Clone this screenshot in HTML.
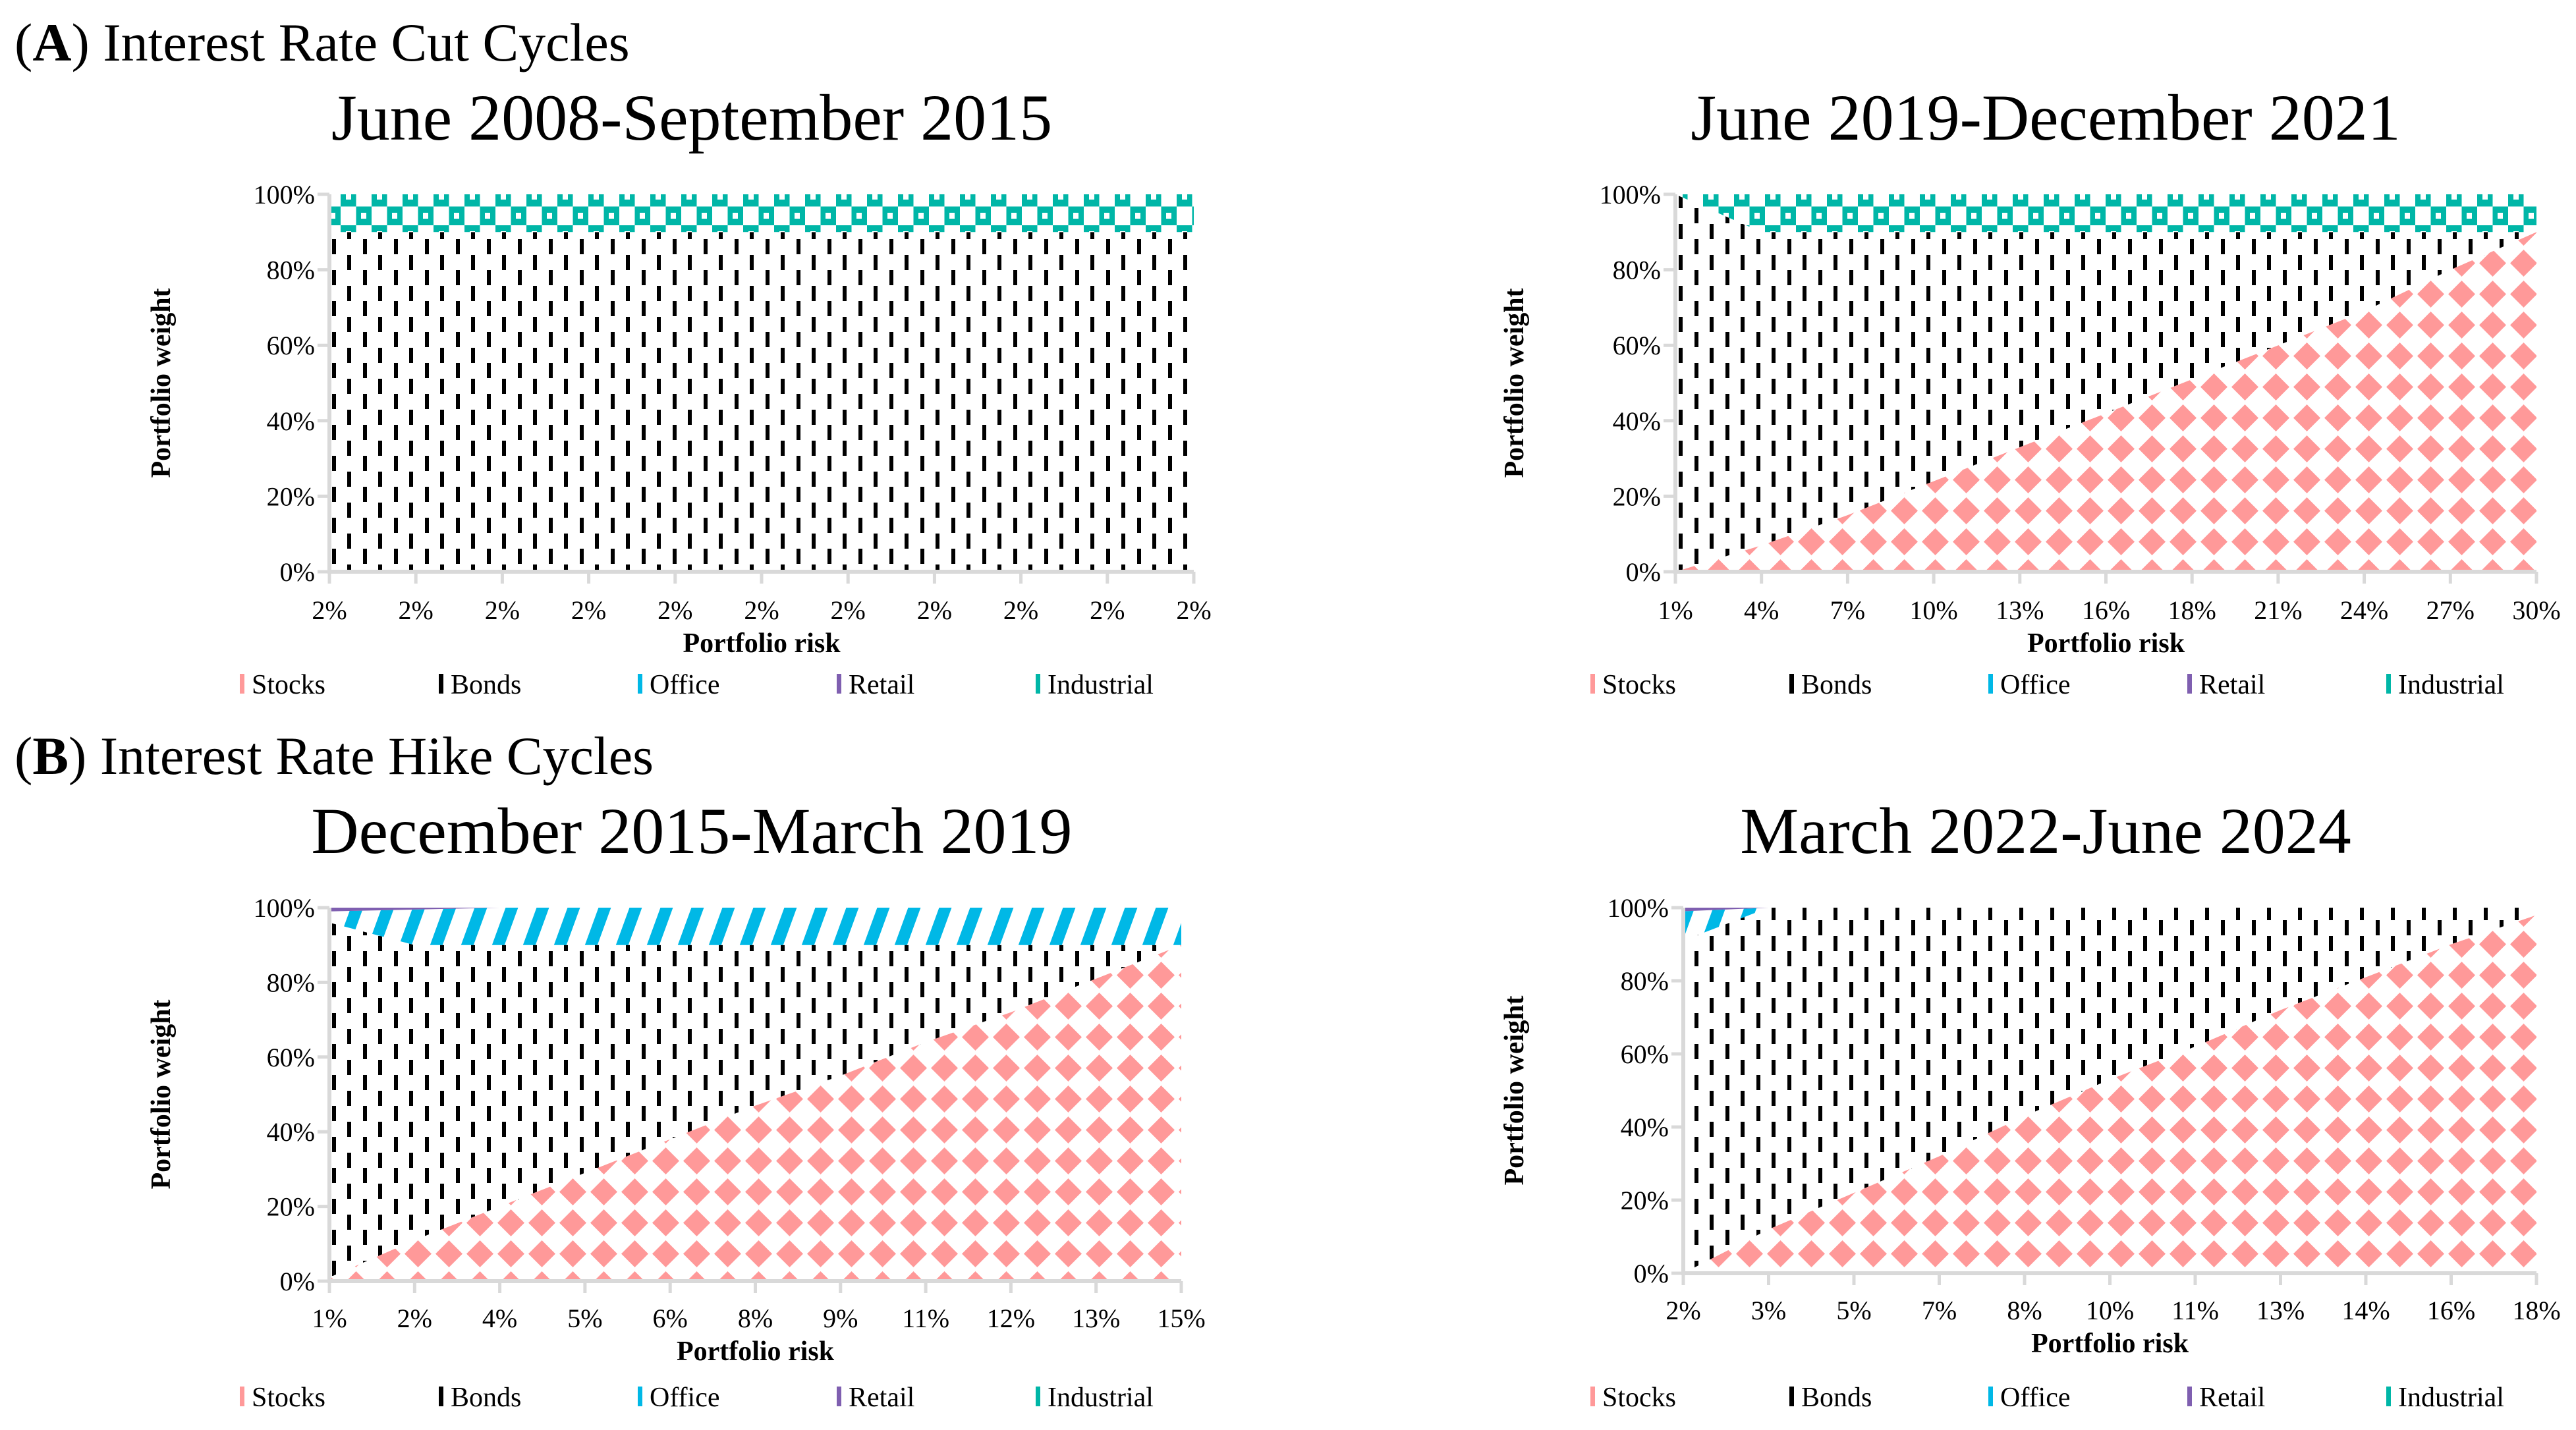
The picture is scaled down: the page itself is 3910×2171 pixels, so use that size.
<!DOCTYPE html>
<html><head><meta charset="utf-8">
<style>
html,body{margin:0;padding:0;background:#fff;}
svg{display:block;font-family:"Liberation Serif",serif;}
</style></head>
<body>
<svg id="fig" width="3910" height="2171" viewBox="0 0 3910 2171" xmlns="http://www.w3.org/2000/svg">
<defs>
  <pattern id="pStocks" patternUnits="userSpaceOnUse" width="47" height="47">
    <rect width="47" height="47" fill="#fff"/>
    <polygon points="23.5,3 44,23.5 23.5,44 3,23.5" fill="#ff9999"/>
  </pattern>
  <pattern id="pBonds" patternUnits="userSpaceOnUse" width="47" height="47">
    <rect width="47" height="47" fill="#fff"/>
    <rect x="10" y="11" width="6" height="23" fill="#000"/>
    <rect x="34" y="34" width="6" height="23" fill="#000"/>
    <rect x="34" y="-13" width="6" height="23" fill="#000"/>
  </pattern>
  <pattern id="pIndustrial" patternUnits="userSpaceOnUse" width="47" height="57">
    <rect width="47" height="57" fill="#fff"/>
    <rect x="0" y="0" width="23.5" height="28.5" fill="#00b6a7"/>
    <rect x="23.5" y="28.5" width="23.5" height="28.5" fill="#00b6a7"/>
    <rect x="8" y="9" width="8" height="9" fill="#fff"/>
    <rect x="31" y="38" width="8" height="9" fill="#fff"/>
  </pattern>
  <pattern id="pOffice" patternUnits="userSpaceOnUse" width="47" height="57" patternTransform="skewX(-20)">
    <rect width="47" height="57" fill="#fff"/>
    <rect x="0" y="0" width="19" height="57" fill="#00b8e6"/>
  </pattern>
</defs>

<text x="22" y="92" font-size="82">(<tspan font-weight="bold">A</tspan>) Interest Rate Cut Cycles</text>
<text x="22" y="1175" font-size="82">(<tspan font-weight="bold">B</tspan>) Interest Rate Hike Cycles</text>
<g id="charts"></g>
</svg>

<script>
// Chart 1: June 2008-September 2015
const c1Ticks = ["2%","2%","2%","2%","2%","2%","2%","2%","2%","2%","2%"];
const c1Stocks = [0,0,0,0,0,0,0,0,0,0,0];
const c1Bonds = [90,90,90,90,90,90,90,90,90,90,90];
const c1Office = [0,0,0,0,0,0,0,0,0,0,0];
const c1Retail = [0,0,0,0,0,0,0,0,0,0,0];
const c1Industrial = [10,10,10,10,10,10,10,10,10,10,10];

// Chart 2: June 2019-December 2021
const c2Ticks = ["1%","4%","7%","10%","13%","16%","18%","21%","24%","27%","30%"];
const c2Stocks = [0,7,15,24,33,42,51,60,69,80,90];
const c2Bonds = [100,83,75,66,57,48,39,30,21,10,0];
const c2Office = [0,0,0,0,0,0,0,0,0,0,0];
const c2Retail = [0,0,0,0,0,0,0,0,0,0,0];
const c2Industrial = [0,10,10,10,10,10,10,10,10,10,10];

// Chart 3: December 2015-March 2019
const c3Ticks = ["1%","2%","4%","5%","6%","8%","9%","11%","12%","13%","15%"];
const c3Stocks = [1,11,20,29,38,47,55,64,72,81,90];
const c3Bonds = [95,79,70,61,52,43,35,26,18,9,0];
const c3Office = [3,9.5,10,10,10,10,10,10,10,10,10];
const c3Retail = [1,0.5,0,0,0,0,0,0,0,0,0];
const c3Industrial = [0,0,0,0,0,0,0,0,0,0,0];

// Chart 4: March 2022-June 2024
const c4Ticks = ["2%","3%","5%","7%","8%","10%","11%","13%","14%","16%","18%"];
const c4Stocks = [0,12,22,32,43,53,62,72,81,90,98];
const c4Bonds = [91,88,78,68,57,47,38,28,19,10,2];
const c4Office = [8,0,0,0,0,0,0,0,0,0,0];
const c4Retail = [1,0,0,0,0,0,0,0,0,0,0];
const c4Industrial = [0,0,0,0,0,0,0,0,0,0,0];

const yTicks = ["0%","20%","40%","60%","80%","100%"];

const NS = "http://www.w3.org/2000/svg";
const root = document.getElementById("charts");
function mk(tag, attrs, parent){
  const e = document.createElementNS(NS, tag);
  for (const k in attrs) e.setAttribute(k, attrs[k]);
  parent.appendChild(e);
  return e;
}

function chart(cfg){
  const g = mk("g", {}, root);
  
  
  const L = cfg.x0, R = cfg.x1, T = cfg.y0, B = cfg.y1;
  const n = cfg.ticks.length;
  const xs = i => L + (R - L) * i / (n - 1);
  const ys = v => B - (B - T) * v / 100;

  const t = mk("text", {x: cfg.titleX, y: cfg.titleY, "font-size": 100, "text-anchor": "middle"}, g);
  t.textContent = cfg.title;
  
  

  const series = [
    {vals: cfg.stocks, fill: "url(#pStocks)", name: "stocks-area"},
    {vals: cfg.bonds, fill: "url(#pBonds)", name: "bonds-area"},
    {vals: cfg.office, fill: "url(#pOffice)", name: "office-area"},
    {vals: cfg.retail, fill: "#7f5fb0", name: "retail-area"},
    {vals: cfg.industrial, fill: "url(#pIndustrial)", name: "industrial-area"}
  ];
  const base = new Array(n).fill(0);
  series.forEach(s => {
    const top = base.map((b, i) => b + s.vals[i]);
    let d = "";
    for (let i = 0; i < n; i++) d += (i ? "L" : "M") + xs(i) + "," + ys(top[i]);
    for (let i = n - 1; i >= 0; i--) d += "L" + xs(i) + "," + ys(base[i]);
    d += "Z";
    const p = mk("path", {d: d, fill: s.fill}, g);
    
    
    for (let i = 0; i < n; i++) base[i] = top[i];
  });

  const ax = mk("path", {d: `M${L},${T}V${B}H${R}`, stroke: "#d9d9d9", "stroke-width": 6, fill: "none"}, g);
  
  
  yTicks.forEach((lbl, i) => {
    const y = ys(i * 20);
    mk("line", {x1: L - 18, x2: L, y1: y, y2: y, stroke: "#d9d9d9", "stroke-width": 5}, g);
    const tx = mk("text", {x: L - 22, y: y + 14, "font-size": 40, "text-anchor": "end"}, g);
    tx.textContent = lbl;
    
    
  });
  cfg.ticks.forEach((lbl, i) => {
    const x = xs(i);
    mk("line", {x1: x, x2: x, y1: B, y2: B + 18, stroke: "#d9d9d9", "stroke-width": 5}, g);
    const tx = mk("text", {x: x, y: cfg.tickY, "font-size": 40, "text-anchor": "middle"}, g);
    tx.textContent = lbl;
    
    
  });
  const xt = mk("text", {x: (L + R) / 2, y: cfg.tickY + 50, "font-size": 42, "font-weight": "bold", "text-anchor": "middle"}, g);
  xt.textContent = "Portfolio risk";
  
  
  const yt = mk("text", {x: 0, y: 0, "font-size": 42, "font-weight": "bold", "text-anchor": "middle",
    transform: `translate(${cfg.yTitleX},${(T + B) / 2}) rotate(-90)`}, g);
  yt.textContent = "Portfolio weight";
  
  

  const leg = [["Stocks", "#ff9999"], ["Bonds", "#000"], ["Office", "#00b8e6"], ["Retail", "#7f5fb0"], ["Industrial", "#00b6a7"]];
  leg.forEach((e, i) => {
    const lx = cfg.legX + i * cfg.legStep;
    const m = mk("rect", {x: lx + 4, y: cfg.legY - 30, width: 7, height: 30, fill: e[1]}, g);
    
    
    const tx = mk("text", {x: lx + 22, y: cfg.legY, "font-size": 42}, g);
    tx.textContent = e[0];
    
    
  });
}

chart({name: "chart-cut-2008-2015", title: "June 2008-September 2015", titleX: 1050, titleY: 212,
  x0: 500, x1: 1812, y0: 295, y1: 868, tickY: 940, yTitleX: 258, legX: 360, legStep: 302, legY: 1053,
  ticks: c1Ticks, stocks: c1Stocks, bonds: c1Bonds, office: c1Office, retail: c1Retail, industrial: c1Industrial});
chart({name: "chart-cut-2019-2021", title: "June 2019-December 2021", titleX: 3105, titleY: 212,
  x0: 2543, x1: 3850, y0: 295, y1: 868, tickY: 940, yTitleX: 2312, legX: 2410, legStep: 302, legY: 1053,
  ticks: c2Ticks, stocks: c2Stocks, bonds: c2Bonds, office: c2Office, retail: c2Retail, industrial: c2Industrial});
chart({name: "chart-hike-2015-2019", title: "December 2015-March 2019", titleX: 1050, titleY: 1295,
  x0: 500, x1: 1793, y0: 1378, y1: 1945, tickY: 2015, yTitleX: 258, legX: 360, legStep: 302, legY: 2135,
  ticks: c3Ticks, stocks: c3Stocks, bonds: c3Bonds, office: c3Office, retail: c3Retail, industrial: c3Industrial});
chart({name: "chart-hike-2022-2024", title: "March 2022-June 2024", titleX: 3105, titleY: 1295,
  x0: 2555, x1: 3850, y0: 1378, y1: 1933, tickY: 2003, yTitleX: 2312, legX: 2410, legStep: 302, legY: 2135,
  ticks: c4Ticks, stocks: c4Stocks, bonds: c4Bonds, office: c4Office, retail: c4Retail, industrial: c4Industrial});
</script>
</body></html>
